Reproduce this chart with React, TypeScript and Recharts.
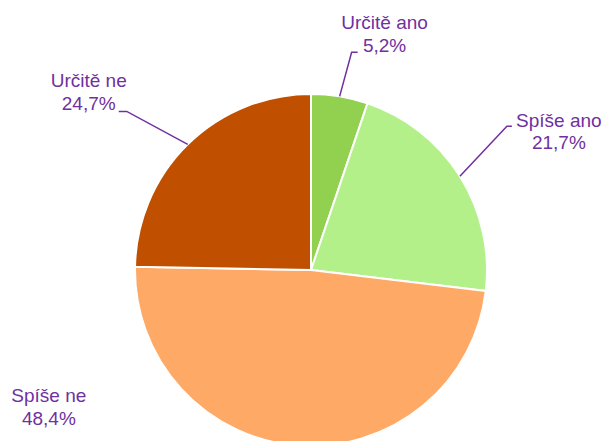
import { PieChart, Pie, Cell } from "recharts"

const categories = ["Určitě ano", "Spíše ano", "Spíše ne", "Určitě ne"]
const shares = [5.2, 21.7, 48.4, 24.7]
const colors = ["#92d050", "#b3f08a", "#ffa966", "#c05000"]

const data = categories.map((name, i) => ({ name, value: shares[i] }))

// label placement relative to the point on the rim at each slice's mid angle
// elbow/end: leader line bends, tx: text centre, b1/b2: baselines of the two lines
const labelLayout = [
  { line: true, elbow: [12, -44], end: [18, -44], tx: 45, b1: -67, b2: -44 },
  { line: true, elbow: [47, -50], end: [52, -50], tx: 99, b1: -49, b2: -27 },
  { line: false, elbow: [0, 0], end: [0, 0], tx: -250, b1: -44, b2: -21 },
  { line: true, elbow: [-61, -33], end: [-69, -33], tx: -99, b1: -57, b2: -34 },
]

const purple = "#7030a0"
const RAD = Math.PI / 180

function renderLabel(props: any) {
  const { cx, cy, midAngle, outerRadius, index, value } = props
  const ax = cx + outerRadius * Math.cos(midAngle * RAD)
  const ay = cy - outerRadius * Math.sin(midAngle * RAD)
  const l = labelLayout[index]
  const pct = value.toFixed(1).replace(".", ",") + "%"
  return (
    <g key={"lbl" + index}>
      {l.line && (
        <polyline
          points={`${ax},${ay} ${ax + l.elbow[0]},${ay + l.elbow[1]} ${ax + l.end[0]},${ay + l.end[1]}`}
          fill="none"
          stroke={purple}
          strokeWidth={1.5}
        />
      )}
      <text x={ax + l.tx} y={ay + l.b1} textAnchor="middle" fill={purple} fontSize={19}>
        {categories[index]}
      </text>
      <text x={ax + l.tx} y={ay + l.b2} textAnchor="middle" fill={purple} fontSize={19}>
        {pct}
      </text>
    </g>
  )
}

export default function App() {
  return (
    <div style={{ position: "absolute", left: 0, top: 0, fontFamily: "'Liberation Sans', Arial, sans-serif" }}>
      <PieChart width={607} height={441} margin={{ top: 0, right: 0, bottom: 0, left: 0 }}>
        <Pie
          data={data}
          dataKey="value"
          nameKey="name"
          cx={311}
          cy={270}
          outerRadius={176}
          startAngle={90}
          endAngle={-270}
          stroke="#ffffff"
          strokeWidth={2}
          label={renderLabel}
          labelLine={false}
          isAnimationActive={false}
        >
          {data.map((d, i) => (
            <Cell key={d.name} fill={colors[i]} />
          ))}
        </Pie>
      </PieChart>
    </div>
  )
}
